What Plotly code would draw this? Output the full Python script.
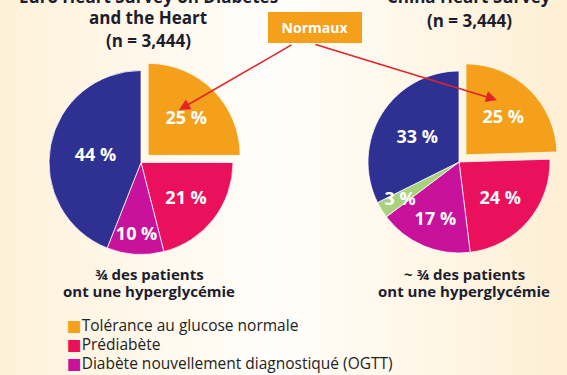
import base64
import struct
import zlib

import plotly.graph_objects as go

# ---------------- data ----------------
categories_left = ["Tolérance au glucose normale", "Prédiabète",
                   "Diabète nouvellement diagnostiqué (OGTT)", "Diabète connu"]
values_left = [25, 21, 10, 44]

categories_right = ["Tolérance au glucose normale", "Prédiabète",
                    "Diabète nouvellement diagnostiqué (OGTT)", "Autre", "Diabète connu"]
values_right = [25, 24, 17, 3, 33]

legend_labels = ["Tolérance au glucose normale", "Prédiabète",
                 "Diabète nouvellement diagnostiqué (OGTT)"]

title_left = ["Euro Heart Survey on Diabetes", "and the Heart", "(n = 3,444)"]
title_right = ["China Heart Survey", "(n = 3,444)"]
caption_left = ["¾ des patients", "ont une hyperglycémie"]
caption_right = ["~ ¾ des patients", "ont une hyperglycémie"]
callout_text = "Normaux"

# ---------------- style ----------------
COLORS = {
    "Tolérance au glucose normale": "#f5a01b",
    "Prédiabète": "#ea105b",
    "Diabète nouvellement diagnostiqué (OGTT)": "#c8129b",
    "Autre": "#a8d27e",
    "Diabète connu": "#2e3192",
}
DARK = "#1d1d2e"
RED = "#e3232a"
W, H = 567, 375
FONT = "Open Sans"


def py(px):
    return 1 - px / H


def px_(x):
    return x / W


# ---------------- background gradient (PNG data URI) ----------------
def gradient_png(width, stops):
    row = bytearray([0])
    for i in range(width):
        t = i / (width - 1)
        for (t0, c0), (t1, c1) in zip(stops[:-1], stops[1:]):
            if t0 <= t <= t1:
                f = (t - t0) / (t1 - t0)
                row += bytes(int(round(a + (b - a) * f)) for a, b in zip(c0, c1))
                break
    raw = bytes(row) * 2

    def chunk(tag, data):
        return (struct.pack(">I", len(data)) + tag + data
                + struct.pack(">I", zlib.crc32(tag + data) & 0xFFFFFFFF))

    png = (b"\x89PNG\r\n\x1a\n"
           + chunk(b"IHDR", struct.pack(">IIBBBBB", width, 2, 8, 2, 0, 0, 0))
           + chunk(b"IDAT", zlib.compress(raw))
           + chunk(b"IEND", b""))
    return "data:image/png;base64," + base64.b64encode(png).decode()


bg = gradient_png(W, [(0.0, (254, 241, 217)), (0.48, (255, 254, 251)), (1.0, (254, 239, 212))])

# ---------------- pies ----------------
PULL = 0.11


def domain(cx, cy, r):
    half = r * (1 + PULL)
    return dict(x=[px_(cx - half), px_(cx + half)], y=[py(cy + half), py(cy - half)])


def pie(cats, vals, dom, text_mask=None, overlay=False):
    texts = [f"{v} %" for v in vals]
    if text_mask is not None:
        texts = [t if m else "" for t, m in zip(texts, text_mask)]
    return go.Pie(
        labels=cats,
        values=vals,
        text=texts,
        textinfo="text",
        textposition="inside",
        insidetextorientation="horizontal",
        textfont=dict(family=FONT, size=18, color="white", weight="bold"),
        marker=dict(colors=["rgba(0,0,0,0)"] * len(vals) if overlay else [COLORS[c] for c in cats],
                    line=dict(color="rgba(255,255,255,0.75)" if not overlay else "rgba(0,0,0,0)",
                              width=1)),
        pull=[PULL if i == 0 else 0 for i in range(len(vals))],
        sort=False,
        direction="clockwise",
        rotation=0,
        domain=dom,
        showlegend=False,
        hoverinfo="skip" if overlay else "label+text",
    )


dom_left = domain(141, 162.5, 92)
dom_right = domain(459, 162, 91)
dom_right_inner = domain(459, 162, 91 * 0.83)
small = [v < 5 for v in values_right]

fig = go.Figure()
fig.add_trace(pie(categories_left, values_left, dom_left))
fig.add_trace(pie(categories_right, values_right, dom_right, text_mask=[not s for s in small]))
# small-slice label drawn on top of neighbouring slices, a little further in
fig.add_trace(pie(categories_right, values_right, dom_right_inner, text_mask=small, overlay=True))

# ---------------- annotations ----------------
ann = []


def text_line(txt, x, yc, size, bold=True, color=DARK, anchor="center"):
    ann.append(dict(text=f"<b>{txt}</b>" if bold else txt, x=px_(x), y=py(yc),
                    xref="paper", yref="paper", showarrow=False,
                    xanchor=anchor, yanchor="middle",
                    font=dict(family=FONT, size=size, color=color)))


for t, yc in zip(title_left, [-3.5, 17.5, 40.4]):
    text_line(t, 148, yc, 17)
for t, yc in zip(title_right, [-3.3, 20.1]):
    text_line(t, 469, yc, 17)
for t, yc in zip(caption_left, [273.5, 290.9]):
    text_line(t, 149, yc, 15)
for t, yc in zip(caption_right, [273.5, 290.9]):
    text_line(t, 464, yc, 15)

# arrows from the callout box to the orange slices
ann.append(dict(x=px_(179), y=py(110), xref="paper", yref="paper", text="",
                showarrow=True, ax=114, ay=-66, arrowhead=2, arrowsize=1.4,
                arrowwidth=1.6, arrowcolor=RED))
ann.append(dict(x=px_(497), y=py(100), xref="paper", yref="paper", text="",
                showarrow=True, ax=-183, ay=-56, arrowhead=2, arrowsize=1.4,
                arrowwidth=1.6, arrowcolor=RED))

# callout box
ann.append(dict(text=f"<b>{callout_text}</b>", x=px_(315), y=py(27.5),
                xref="paper", yref="paper", showarrow=False,
                xanchor="center", yanchor="middle", width=90, height=27,
                borderpad=1, borderwidth=1, bordercolor=COLORS[categories_left[0]],
                bgcolor=COLORS[categories_left[0]],
                font=dict(family=FONT, size=14, color="white")))

# legend rows
for i, lab in enumerate(legend_labels):
    ann.append(dict(
        text=f"<span style='font-family:DejaVu Sans;color:{COLORS[lab]}'>■</span>{lab}",
        x=px_(65), y=py(325 + 19 * i), xref="paper", yref="paper",
        showarrow=False, xanchor="left", yanchor="middle",
        font=dict(family=FONT, size=15.5, color="#222222")))

fig.update_layout(
    width=W, height=H,
    margin=dict(l=0, r=0, t=0, b=0),
    paper_bgcolor="#fffdf8",
    plot_bgcolor="rgba(0,0,0,0)",
    uniformtext=dict(mode="show", minsize=18),
    annotations=ann,
    images=[dict(source=bg, xref="paper", yref="paper", x=0, y=1, sizex=1, sizey=1,
                 sizing="stretch", layer="below", xanchor="left", yanchor="top")],
)

fig.write_html("out.html",
               config={"displayModeBar": False},
               post_script="document.body.style.margin='0';document.body.style.overflow='hidden';")
